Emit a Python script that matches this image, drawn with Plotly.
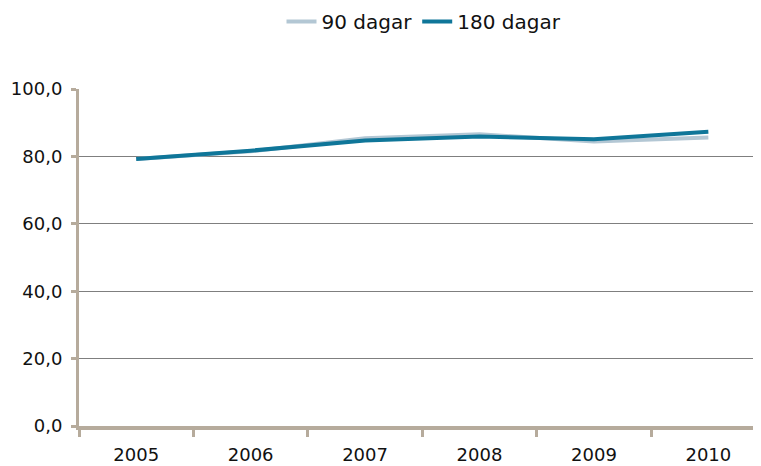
import plotly.graph_objects as go

years = ["2005", "2006", "2007", "2008", "2009", "2010"]
d90 = [79.2, 81.5, 85.4, 86.6, 84.4, 85.6]
d180 = [79.2, 81.7, 84.7, 85.9, 85.1, 87.3]
yticks = [0, 20, 40, 60, 80, 100]
yticklabels = ["0,0", "20,0", "40,0", "60,0", "80,0", "100,0"]

axis_col = "#b6ab9c"
fig = go.Figure()
fig.add_trace(go.Scatter(x=years, y=d90, mode="lines", name="90 dagar",
                         line=dict(color="#b3c7d4", width=4)))
fig.add_trace(go.Scatter(x=years, y=d180, mode="lines", name="180 dagar",
                         line=dict(color="#0f7699", width=4)))

fig.update_layout(
    width=761, height=466,
    margin=dict(l=71, r=0, t=81, b=48, autoexpand=False),
    paper_bgcolor="white", plot_bgcolor="white",
    font=dict(family="DejaVu Sans, Liberation Sans, sans-serif", size=18, color="#111"),
    showlegend=True,
    legend=dict(orientation="h", x=0.5, xanchor="center", y=1.2, yanchor="middle",
                font=dict(size=20), tracegroupgap=0),
    xaxis=dict(type="category", range=[-0.5, 5.53], showgrid=False, automargin=False,
               showline=True, linecolor=axis_col, linewidth=4,
               ticks="outside", tickson="boundaries", ticklen=7, tickwidth=3,
               tickcolor=axis_col, zeroline=False, ticklabelstandoff=9),
    yaxis=dict(range=[0, 100], tickvals=yticks, ticktext=yticklabels, automargin=False,
               showgrid=True, gridcolor="#7f7f7f", gridwidth=1,
               showline=True, linecolor=axis_col, linewidth=3,
               ticks="outside", ticklen=5, tickwidth=3, tickcolor=axis_col,
               zeroline=False, ticklabelstandoff=5),
)
fig.write_html("out.html")
